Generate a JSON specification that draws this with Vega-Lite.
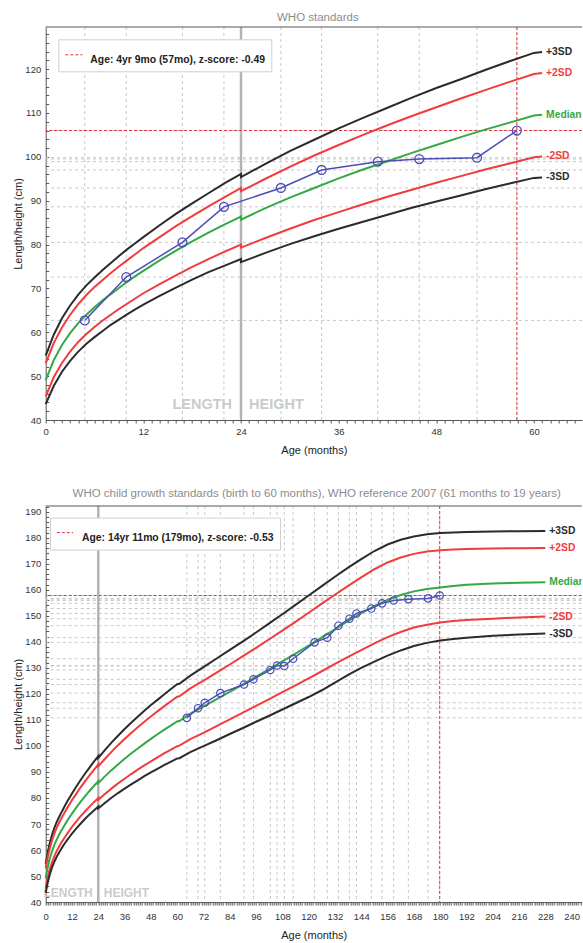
{
  "$schema": "https://vega.github.io/schema/vega-lite/v6.json",
  "padding": {"left": 4.7, "top": 12, "right": 0, "bottom": 0},
  "spacing": 32,
  "columns": 1,
  "config": {
    "font": "Liberation Sans",
    "view": {"stroke": null},
    "axis": {"grid": false, "labelFont": "Liberation Sans", "titleFont": "Liberation Sans", "labelFontSize": 9.5, "labelColor": "#333", "titleFontSize": 11, "titleFontWeight": "normal", "titleColor": "#222", "domainColor": "#555", "tickColor": "#555", "labelFlush": false, "labelOverlap": false},
    "title": {"font": "Liberation Sans", "fontSize": 11.5, "fontWeight": "normal", "color": "#8c8c8c", "offset": 2}
  },
  "datasets": {
    "curves": [
      {"m": 0, "-3SD": 43.6, "-2SD": 45.4, "Median": 49.1, "+2SD": 52.9, "+3SD": 54.7},
      {"m": 1, "-3SD": 47.8, "-2SD": 49.8, "Median": 53.7, "+2SD": 57.6, "+3SD": 59.5},
      {"m": 2, "-3SD": 51.0, "-2SD": 53.0, "Median": 57.1, "+2SD": 61.1, "+3SD": 63.2},
      {"m": 3, "-3SD": 53.5, "-2SD": 55.6, "Median": 59.8, "+2SD": 64.0, "+3SD": 66.1},
      {"m": 4, "-3SD": 55.6, "-2SD": 57.8, "Median": 62.1, "+2SD": 66.4, "+3SD": 68.6},
      {"m": 5, "-3SD": 57.4, "-2SD": 59.6, "Median": 64.0, "+2SD": 68.5, "+3SD": 70.7},
      {"m": 6, "-3SD": 58.9, "-2SD": 61.2, "Median": 65.7, "+2SD": 70.3, "+3SD": 72.5},
      {"m": 7, "-3SD": 60.3, "-2SD": 62.7, "Median": 67.3, "+2SD": 71.9, "+3SD": 74.2},
      {"m": 8, "-3SD": 61.7, "-2SD": 64.0, "Median": 68.7, "+2SD": 73.5, "+3SD": 75.8},
      {"m": 9, "-3SD": 62.9, "-2SD": 65.3, "Median": 70.1, "+2SD": 75.0, "+3SD": 77.4},
      {"m": 10, "-3SD": 64.1, "-2SD": 66.5, "Median": 71.5, "+2SD": 76.4, "+3SD": 78.9},
      {"m": 11, "-3SD": 65.2, "-2SD": 67.7, "Median": 72.8, "+2SD": 77.8, "+3SD": 80.3},
      {"m": 12, "-3SD": 66.3, "-2SD": 68.9, "Median": 74.0, "+2SD": 79.2, "+3SD": 81.7},
      {"m": 14, "-3SD": 68.3, "-2SD": 71.0, "Median": 76.4, "+2SD": 81.7, "+3SD": 84.4},
      {"m": 16, "-3SD": 70.2, "-2SD": 73.0, "Median": 78.6, "+2SD": 84.2, "+3SD": 87.0},
      {"m": 18, "-3SD": 72.0, "-2SD": 74.9, "Median": 80.7, "+2SD": 86.5, "+3SD": 89.4},
      {"m": 20, "-3SD": 73.7, "-2SD": 76.7, "Median": 82.7, "+2SD": 88.7, "+3SD": 91.7},
      {"m": 22, "-3SD": 75.2, "-2SD": 78.4, "Median": 84.6, "+2SD": 90.8, "+3SD": 94.0},
      {"m": 24, "-3SD": 76.7, "-2SD": 80.0, "Median": 86.4, "+2SD": 92.9, "+3SD": 96.1},
      {"m": 24, "-3SD": 76.0, "-2SD": 79.3, "Median": 85.7, "+2SD": 92.2, "+3SD": 95.4},
      {"m": 27, "-3SD": 78.1, "-2SD": 81.5, "Median": 88.3, "+2SD": 95.0, "+3SD": 98.4},
      {"m": 30, "-3SD": 80.1, "-2SD": 83.6, "Median": 90.7, "+2SD": 97.7, "+3SD": 101.3},
      {"m": 33, "-3SD": 81.9, "-2SD": 85.6, "Median": 92.9, "+2SD": 100.3, "+3SD": 103.9},
      {"m": 36, "-3SD": 83.6, "-2SD": 87.4, "Median": 95.1, "+2SD": 102.7, "+3SD": 106.5},
      {"m": 39, "-3SD": 85.2, "-2SD": 89.2, "Median": 97.1, "+2SD": 105.0, "+3SD": 108.9},
      {"m": 42, "-3SD": 86.8, "-2SD": 90.9, "Median": 99.0, "+2SD": 107.2, "+3SD": 111.2},
      {"m": 45, "-3SD": 88.4, "-2SD": 92.5, "Median": 100.9, "+2SD": 109.3, "+3SD": 113.5},
      {"m": 48, "-3SD": 89.8, "-2SD": 94.1, "Median": 102.7, "+2SD": 111.3, "+3SD": 115.7},
      {"m": 51, "-3SD": 91.2, "-2SD": 95.6, "Median": 104.5, "+2SD": 113.3, "+3SD": 117.7},
      {"m": 54, "-3SD": 92.6, "-2SD": 97.1, "Median": 106.2, "+2SD": 115.2, "+3SD": 119.8},
      {"m": 57, "-3SD": 93.9, "-2SD": 98.5, "Median": 107.8, "+2SD": 117.1, "+3SD": 121.8},
      {"m": 60, "-3SD": 95.2, "-2SD": 99.9, "Median": 109.4, "+2SD": 118.9, "+3SD": 123.7},
      {"m": 61, "-3SD": 95.3, "-2SD": 100.1, "Median": 109.6, "+2SD": 119.1, "+3SD": 123.9},
      {"m": 66, "-3SD": 97.6, "-2SD": 102.6, "Median": 112.4, "+2SD": 122.1, "+3SD": 127.0},
      {"m": 72, "-3SD": 99.9, "-2SD": 105.0, "Median": 115.1, "+2SD": 125.1, "+3SD": 130.3},
      {"m": 78, "-3SD": 102.2, "-2SD": 107.6, "Median": 118.0, "+2SD": 128.2, "+3SD": 133.6},
      {"m": 84, "-3SD": 104.6, "-2SD": 110.2, "Median": 120.8, "+2SD": 131.3, "+3SD": 136.9},
      {"m": 90, "-3SD": 106.9, "-2SD": 112.8, "Median": 123.7, "+2SD": 134.5, "+3SD": 140.2},
      {"m": 96, "-3SD": 109.3, "-2SD": 115.4, "Median": 126.6, "+2SD": 137.7, "+3SD": 143.6},
      {"m": 102, "-3SD": 111.6, "-2SD": 118.0, "Median": 129.5, "+2SD": 141.0, "+3SD": 147.1},
      {"m": 108, "-3SD": 114.0, "-2SD": 120.7, "Median": 132.5, "+2SD": 144.3, "+3SD": 150.6},
      {"m": 114, "-3SD": 116.4, "-2SD": 123.3, "Median": 135.5, "+2SD": 147.7, "+3SD": 154.2},
      {"m": 120, "-3SD": 118.8, "-2SD": 126.0, "Median": 138.6, "+2SD": 151.2, "+3SD": 157.8},
      {"m": 126, "-3SD": 121.4, "-2SD": 128.7, "Median": 141.7, "+2SD": 154.7, "+3SD": 161.4},
      {"m": 132, "-3SD": 124.3, "-2SD": 131.5, "Median": 144.8, "+2SD": 158.1, "+3SD": 165.0},
      {"m": 138, "-3SD": 127.3, "-2SD": 134.2, "Median": 148.0, "+2SD": 161.5, "+3SD": 168.5},
      {"m": 144, "-3SD": 130.0, "-2SD": 136.8, "Median": 151.0, "+2SD": 164.8, "+3SD": 171.8},
      {"m": 150, "-3SD": 132.4, "-2SD": 139.4, "Median": 153.7, "+2SD": 167.9, "+3SD": 174.9},
      {"m": 156, "-3SD": 134.7, "-2SD": 141.8, "Median": 156.1, "+2SD": 170.5, "+3SD": 177.4},
      {"m": 162, "-3SD": 136.7, "-2SD": 143.8, "Median": 158.0, "+2SD": 172.4, "+3SD": 179.2},
      {"m": 168, "-3SD": 138.4, "-2SD": 145.5, "Median": 159.4, "+2SD": 173.8, "+3SD": 180.5},
      {"m": 174, "-3SD": 139.6, "-2SD": 146.6, "Median": 160.3, "+2SD": 174.7, "+3SD": 181.3},
      {"m": 180, "-3SD": 140.5, "-2SD": 147.4, "Median": 160.9, "+2SD": 175.2, "+3SD": 181.8},
      {"m": 186, "-3SD": 141.1, "-2SD": 148.0, "Median": 161.5, "+2SD": 175.5, "+3SD": 182.0},
      {"m": 192, "-3SD": 141.6, "-2SD": 148.4, "Median": 161.9, "+2SD": 175.7, "+3SD": 182.2},
      {"m": 204, "-3SD": 142.3, "-2SD": 148.9, "Median": 162.4, "+2SD": 175.9, "+3SD": 182.4},
      {"m": 216, "-3SD": 142.8, "-2SD": 149.4, "Median": 162.7, "+2SD": 176.0, "+3SD": 182.5},
      {"m": 228, "-3SD": 143.2, "-2SD": 149.7, "Median": 162.9, "+2SD": 176.1, "+3SD": 182.6}
    ],
    "top_pts": [
      {"m": 4.8, "cm": 62.7}, {"m": 9.9, "cm": 72.6}, {"m": 16.8, "cm": 80.5}, {"m": 21.9, "cm": 88.6},
      {"m": 28.9, "cm": 92.9}, {"m": 33.9, "cm": 97.0}, {"m": 40.8, "cm": 98.9}, {"m": 45.9, "cm": 99.5},
      {"m": 53.0, "cm": 99.8}, {"m": 57.9, "cm": 106.0}
    ],
    "bot_pts": [
      {"m": 64.4, "cm": 110.8}, {"m": 69.5, "cm": 114.5}, {"m": 72.6, "cm": 116.6}, {"m": 79.7, "cm": 120.3},
      {"m": 90.5, "cm": 123.6}, {"m": 94.8, "cm": 125.6}, {"m": 102.5, "cm": 129.2}, {"m": 105.6, "cm": 130.9},
      {"m": 108.9, "cm": 130.7}, {"m": 112.9, "cm": 133.5}, {"m": 122.7, "cm": 139.8}, {"m": 128.5, "cm": 141.6},
      {"m": 133.6, "cm": 146.2}, {"m": 138.6, "cm": 148.9}, {"m": 141.8, "cm": 150.9}, {"m": 148.6, "cm": 152.8},
      {"m": 153.5, "cm": 154.8}, {"m": 158.8, "cm": 155.9}, {"m": 165.5, "cm": 156.4}, {"m": 174.5, "cm": 156.7},
      {"m": 179.8, "cm": 157.8}
    ],
    "top_latest": [{"m": 57.9, "cm": 106.0, "label": "Age: 4yr 9mo (57mo), z-score: -0.49"}],
    "bot_latest": [{"m": 179.8, "cm": 157.8, "label": "Age: 14yr 11mo (179mo), z-score: -0.53"}],
    "phase": [{"m": 24, "cm": 40}]
  },
  "resolve": {"scale": {"x": "independent", "y": "independent", "stroke": "independent"}, "legend": {"stroke": "independent"}},
  "concat": [
    {
      "width": 536.3,
      "height": 393,
      "title": {"text": "WHO standards", "dx": 4},
      "layer": [
        {"data": {"name": "curves"},
         "transform": [{"filter": "datum.m <= 61"}, {"fold": ["+3SD", "+2SD", "Median", "-2SD", "-3SD"], "as": ["curve", "cm"]}],
         "mark": {"type": "line", "strokeWidth": 0, "opacity": 0},
         "encoding": {
           "x": {"field": "m", "type": "quantitative", "scale": {"domain": [0, 65.9], "nice": false, "zero": false},
             "axis": {"orient": "bottom", "tickCount": 66, "labelExpr": "datum.value % 12 === 0 ? datum.label : ''", "tickSize": 3, "labelPadding": 3, "title": "Age (months)", "titlePadding": 9, "domain": true}},
           "y": {"field": "cm", "type": "quantitative", "scale": {"domain": [40, 129.6], "nice": false, "zero": false},
             "axis": {"orient": "left", "tickCount": 45, "labelExpr": "datum.value % 10 === 0 ? datum.label : ''", "tickSize": -3, "labelPadding": 8, "title": ["", "Length/height (cm)"], "titleLineHeight": 8, "titlePadding": 1, "domain": true}}}},
        {"data": {"name": "top_pts"}, "mark": {"type": "rule", "color": "#c8c8c8", "strokeDash": [3, 3], "strokeWidth": 1},
         "encoding": {"x": {"field": "m", "type": "quantitative"}}},
        {"data": {"name": "top_pts"}, "mark": {"type": "rule", "color": "#c8c8c8", "strokeDash": [3, 3], "strokeWidth": 1},
         "encoding": {"y": {"field": "cm", "type": "quantitative"}}},
        {"data": {"name": "phase"}, "mark": {"type": "rule", "color": "#b3b3b3", "strokeWidth": 2.5},
         "encoding": {"x": {"field": "m", "type": "quantitative"}}},
        {"data": {"name": "phase"}, "mark": {"type": "rule", "color": "#555", "strokeWidth": 1},
         "encoding": {"y": {"datum": 129.6, "type": "quantitative"}}},
        {"data": {"name": "phase"}, "mark": {"type": "text", "text": "LENGTH", "align": "right", "baseline": "bottom", "dx": -9, "dy": -8, "fontSize": 14.5, "fontWeight": "bold", "color": "#cbcbcb"},
         "encoding": {"x": {"field": "m", "type": "quantitative"}, "y": {"field": "cm", "type": "quantitative"}}},
        {"data": {"name": "phase"}, "mark": {"type": "text", "text": "HEIGHT", "align": "left", "baseline": "bottom", "dx": 8, "dy": -8, "fontSize": 14.5, "fontWeight": "bold", "color": "#cbcbcb"},
         "encoding": {"x": {"field": "m", "type": "quantitative"}, "y": {"field": "cm", "type": "quantitative"}}},
        {"data": {"name": "top_latest"}, "mark": {"type": "rule", "strokeDash": [3, 2], "strokeWidth": 1},
         "encoding": {"x": {"field": "m", "type": "quantitative"},
           "stroke": {"field": "label", "type": "nominal", "scale": {"range": ["#e8353a"]},
             "legend": {"title": null, "orient": "none", "legendX": 12.6, "legendY": 12.3, "symbolType": "stroke", "symbolSize": 290, "symbolDash": [3, 2], "symbolStrokeWidth": 1,
               "labelFont": "Liberation Sans", "labelFontWeight": "bold", "labelFontSize": 10.4, "labelColor": "#222", "labelLimit": 400, "labelOffset": 7, "labelBaseline": "top",
               "strokeColor": "#cfcfcf", "fillColor": "white", "padding": 6}}}},
        {"data": {"name": "top_latest"}, "mark": {"type": "rule", "color": "#e8353a", "strokeDash": [3, 2], "strokeWidth": 1},
         "encoding": {"y": {"field": "cm", "type": "quantitative"}}},
        {"data": {"name": "curves"},
         "transform": [{"filter": "datum.m <= 61"}, {"fold": ["+3SD", "+2SD", "Median", "-2SD", "-3SD"], "as": ["curve", "cm"]}],
         "mark": {"type": "line", "strokeWidth": 2},
         "encoding": {
           "x": {"field": "m", "type": "quantitative"},
           "y": {"field": "cm", "type": "quantitative"},
           "color": {"field": "curve", "type": "nominal", "scale": {"domain": ["+3SD", "+2SD", "Median", "-2SD", "-3SD"], "range": ["#2b2b2b", "#f03c3c", "#33a845", "#f03c3c", "#2b2b2b"]}, "legend": null}}},
        {"data": {"name": "curves"},
         "transform": [{"filter": "datum.m == 61"}, {"fold": ["+3SD", "+2SD", "Median", "-2SD", "-3SD"], "as": ["curve", "cm"]}],
         "mark": {"type": "text", "align": "left", "baseline": "middle", "dx": 4, "fontSize": 10.3, "fontWeight": "bold", "clip": true},
         "encoding": {
           "x": {"field": "m", "type": "quantitative"},
           "y": {"field": "cm", "type": "quantitative"},
           "text": {"field": "curve"},
           "color": {"field": "curve", "type": "nominal", "legend": null}}},
        {"data": {"name": "top_pts"}, "mark": {"type": "line", "color": "#4d4db8", "strokeWidth": 1.5},
         "encoding": {"x": {"field": "m", "type": "quantitative"}, "y": {"field": "cm", "type": "quantitative"}}},
        {"data": {"name": "top_pts"}, "mark": {"type": "point", "filled": false, "color": "#4d4db8", "size": 80, "strokeWidth": 1.3, "opacity": 1},
         "encoding": {"x": {"field": "m", "type": "quantitative"}, "y": {"field": "cm", "type": "quantitative"}}}
      ]
    },
    {
      "width": 536,
      "height": 396.1,
      "title": {"text": "WHO child growth standards (birth to 60 months), WHO reference 2007 (61 months to 19 years)", "dx": 3},
      "layer": [
        {"data": {"name": "curves"},
         "transform": [{"fold": ["+3SD", "+2SD", "Median", "-2SD", "-3SD"], "as": ["curve", "cm"]}],
         "mark": {"type": "line", "strokeWidth": 0, "opacity": 0},
         "encoding": {
           "x": {"field": "m", "type": "quantitative", "scale": {"domain": [0, 244.6], "nice": false, "zero": false},
             "axis": {"orient": "bottom", "tickCount": 245, "labelExpr": "datum.value % 12 === 0 ? datum.label : ''", "tickSize": 3, "labelPadding": 6, "title": "Age (months)", "titlePadding": 9, "domain": true}},
           "y": {"field": "cm", "type": "quantitative", "scale": {"domain": [40, 192.2], "nice": false, "zero": false},
             "axis": {"orient": "left", "tickCount": 76, "labelExpr": "datum.value % 10 === 0 ? datum.label : ''", "tickSize": -3, "labelPadding": 8, "title": "Length/height (cm)", "titlePadding": 1, "domain": true}}}},
        {"data": {"name": "bot_pts"}, "mark": {"type": "rule", "color": "#c8c8c8", "strokeDash": [3, 3], "strokeWidth": 1},
         "encoding": {"x": {"field": "m", "type": "quantitative"}}},
        {"data": {"name": "bot_pts"}, "mark": {"type": "rule", "color": "#c8c8c8", "strokeDash": [3, 3], "strokeWidth": 1},
         "encoding": {"y": {"field": "cm", "type": "quantitative"}}},
        {"data": {"name": "phase"}, "mark": {"type": "rule", "color": "#b3b3b3", "strokeWidth": 2.5},
         "encoding": {"x": {"field": "m", "type": "quantitative"}}},
        {"data": {"name": "phase"}, "mark": {"type": "rule", "color": "#555", "strokeWidth": 1},
         "encoding": {"y": {"datum": 192.2, "type": "quantitative"}}},
        {"data": {"name": "phase"}, "mark": {"type": "text", "text": "LENGTH", "align": "right", "baseline": "bottom", "dx": -5.5, "dy": -2, "fontSize": 12, "fontWeight": "bold", "color": "#cbcbcb"},
         "encoding": {"x": {"field": "m", "type": "quantitative"}, "y": {"field": "cm", "type": "quantitative"}}},
        {"data": {"name": "phase"}, "mark": {"type": "text", "text": "HEIGHT", "align": "left", "baseline": "bottom", "dx": 5.5, "dy": -2, "fontSize": 12, "fontWeight": "bold", "color": "#cbcbcb"},
         "encoding": {"x": {"field": "m", "type": "quantitative"}, "y": {"field": "cm", "type": "quantitative"}}},
        {"data": {"name": "bot_latest"}, "mark": {"type": "rule", "strokeDash": [3, 2], "strokeWidth": 1},
         "encoding": {"x": {"field": "m", "type": "quantitative"},
           "stroke": {"field": "label", "type": "nominal", "scale": {"range": ["#e8353a"]},
             "legend": {"title": null, "orient": "none", "legendX": 4.3, "legendY": 11.6, "symbolType": "stroke", "symbolSize": 270, "symbolDash": [3, 2], "symbolStrokeWidth": 1,
               "labelFont": "Liberation Sans", "labelFontWeight": "bold", "labelFontSize": 10.4, "labelColor": "#222", "labelLimit": 400, "labelOffset": 8, "labelBaseline": "top",
               "strokeColor": "#cfcfcf", "fillColor": "white", "padding": 6}}}},
        {"data": {"name": "bot_latest"}, "mark": {"type": "rule", "color": "#e8353a", "strokeDash": [3, 2], "strokeWidth": 1},
         "encoding": {"y": {"field": "cm", "type": "quantitative"}}},
        {"data": {"name": "curves"},
         "transform": [{"fold": ["+3SD", "+2SD", "Median", "-2SD", "-3SD"], "as": ["curve", "cm"]}],
         "mark": {"type": "line", "strokeWidth": 2},
         "encoding": {
           "x": {"field": "m", "type": "quantitative"},
           "y": {"field": "cm", "type": "quantitative"},
           "color": {"field": "curve", "type": "nominal", "scale": {"domain": ["+3SD", "+2SD", "Median", "-2SD", "-3SD"], "range": ["#2b2b2b", "#f03c3c", "#33a845", "#f03c3c", "#2b2b2b"]}, "legend": null}}},
        {"data": {"name": "curves"},
         "transform": [{"filter": "datum.m == 228"}, {"fold": ["+3SD", "+2SD", "Median", "-2SD", "-3SD"], "as": ["curve", "cm"]}],
         "mark": {"type": "text", "align": "left", "baseline": "middle", "dx": 4, "fontSize": 10.3, "fontWeight": "bold", "clip": true},
         "encoding": {
           "x": {"field": "m", "type": "quantitative"},
           "y": {"field": "cm", "type": "quantitative"},
           "text": {"field": "curve"},
           "color": {"field": "curve", "type": "nominal", "legend": null}}},
        {"data": {"name": "bot_pts"}, "mark": {"type": "line", "color": "#4d4db8", "strokeWidth": 1.5},
         "encoding": {"x": {"field": "m", "type": "quantitative"}, "y": {"field": "cm", "type": "quantitative"}}},
        {"data": {"name": "bot_pts"}, "mark": {"type": "point", "filled": false, "color": "#4d4db8", "size": 55, "strokeWidth": 1.2, "opacity": 1},
         "encoding": {"x": {"field": "m", "type": "quantitative"}, "y": {"field": "cm", "type": "quantitative"}}}
      ]
    }
  ]
}
